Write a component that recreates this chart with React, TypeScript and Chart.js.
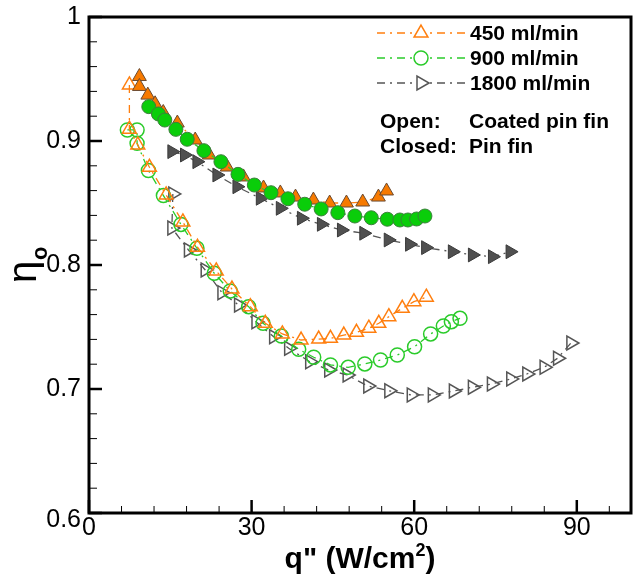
import React, { useEffect, useRef } from 'react';
import { Chart, registerables } from 'chart.js';

Chart.register(...registerables);

// ---------- data ----------
// 450 ml/min, pin fin (closed)
const q450Closed = [9.3, 9.3, 10.85, 12.2, 13.7, 16.3, 19.6, 22.2, 25.5, 28.5, 32.2, 35.3, 38.1, 41.4, 44.4, 47.5, 50.5, 53.4, 54.9];
const eta450Closed = [0.952, 0.944, 0.937, 0.93, 0.923, 0.9145, 0.9008, 0.8887, 0.879, 0.871, 0.8621, 0.8581, 0.8548, 0.8524, 0.85, 0.85, 0.8508, 0.8548, 0.8597];
// 900 ml/min, pin fin (closed)
const q900Closed = [11.03, 12.81, 13.99, 16.03, 18.12, 21.2, 24.34, 27.49, 30.5, 33.58, 36.7, 39.8, 42.83, 45.91, 49.05, 52.08, 55.04, 57.36, 58.84, 60.44, 61.98];
const eta900Closed = [0.9277, 0.9218, 0.9169, 0.9094, 0.9014, 0.8922, 0.8833, 0.8731, 0.8645, 0.8583, 0.8534, 0.849, 0.8452, 0.8422, 0.8395, 0.8381, 0.8369, 0.8363, 0.8363, 0.8371, 0.8395];
// 1800 ml/min, pin fin (closed)
const q1800Closed = [15.29, 17.62, 19.91, 23.6, 27.3, 31.61, 35.3, 39.19, 42.88, 46.58, 50.7, 55.21, 59.15, 62.11, 67.04, 70.74, 74.44, 77.69];
const eta1800Closed = [0.8914, 0.8887, 0.8833, 0.8726, 0.8631, 0.8538, 0.8457, 0.8377, 0.8328, 0.8282, 0.8256, 0.8202, 0.8167, 0.814, 0.8107, 0.8081, 0.8067, 0.8107];
// 450 ml/min, coated pin fin (open)
const q450Open = [7.45, 7.45, 9.0, 11.15, 14.23, 17.32, 20.02, 23.48, 26.38, 29.76, 32.53, 35.67, 39.13, 42.38, 44.55, 47.01, 49.35, 51.63, 53.47, 55.32, 57.8, 59.94, 62.24];
const eta450Open = [0.9452, 0.9095, 0.8968, 0.8788, 0.8565, 0.8347, 0.8143, 0.7952, 0.7806, 0.7664, 0.753, 0.7444, 0.7395, 0.7403, 0.7409, 0.7435, 0.7457, 0.749, 0.753, 0.7583, 0.7651, 0.7704, 0.774];
// 900 ml/min, coated pin fin (open)
const q900Open = [7.08, 8.87, 8.87, 10.96, 13.73, 16.97, 19.91, 23.11, 26.06, 29.45, 32.11, 35.49, 38.69, 41.46, 44.55, 47.82, 50.89, 53.79, 56.88, 60.07, 63.03, 65.38, 66.86, 68.45];
const eta900Open = [0.9089, 0.9089, 0.8981, 0.8762, 0.856, 0.8327, 0.8135, 0.7933, 0.779, 0.7664, 0.753, 0.7427, 0.732, 0.7256, 0.7194, 0.7175, 0.7202, 0.7234, 0.7274, 0.7341, 0.7444, 0.7508, 0.7543, 0.757];
// 1800 ml/min, coated pin fin (open)
const q1800Open = [15.47, 15.29, 18.35, 21.44, 24.53, 27.6, 30.81, 34.07, 36.84, 40.72, 44.23, 47.63, 51.44, 55.32, 59.46, 63.35, 67.23, 70.74, 74.25, 77.82, 80.78, 83.97, 86.45, 88.91];
const eta1800Open = [0.8573, 0.8298, 0.8121, 0.796, 0.7777, 0.7677, 0.7543, 0.7422, 0.7328, 0.722, 0.7153, 0.7113, 0.7024, 0.6986, 0.6952, 0.6952, 0.6984, 0.7014, 0.704, 0.7081, 0.7121, 0.7175, 0.7248, 0.7371];

const legendLabels = ['450 ml/min', '900 ml/min', '1800 ml/min'];
const noteKeys = ['Open:', 'Closed:'];
const noteValues = ['Coated pin fin', 'Pin fin'];

const xMajorTicks = [0, 30, 60, 90];
const xTickLabels = ['0', '30', '60', '90'];
const yMajorTicks = [0.6, 0.7, 0.8, 0.9, 1.0];
const yTickLabels = ['0.6', '0.7', '0.8', '0.9', '1'];

const X_MIN = 0, X_MAX = 100, X_MINOR = 6;
const Y_MIN = 0.6, Y_MAX = 1.0, Y_MINOR = 0.02;

// ---------- styles ----------
const ORANGE = '#FF7F0F';
const GREEN = '#2ACB2A';
const GRAY = '#555555';
const DASH = [8, 5, 2, 5];
const FONT = 'Arial, "Liberation Sans", Helvetica, sans-serif';

const pts = (xs: number[], ys: number[]) => xs.map((x, i) => ({ x, y: ys[i] }));

function drawMarker(ctx: CanvasRenderingContext2D, kind: string, x: number, y: number, color: string) {
  ctx.save();
  ctx.setLineDash([]);
  ctx.strokeStyle = color;
  ctx.lineWidth = 1.5;
  ctx.fillStyle = '#ffffff';
  ctx.beginPath();
  if (kind === 'circle') {
    ctx.arc(x, y, 7, 0, Math.PI * 2);
  } else {
    const r = 8;
    let rad = kind === 'triRight' ? Math.PI / 2 : 0;
    for (let i = 0; i < 3; i++) {
      const px = x + Math.sin(rad) * r;
      const py = y - Math.cos(rad) * r;
      if (i === 0) ctx.moveTo(px, py); else ctx.lineTo(px, py);
      rad += (2 * Math.PI) / 3;
    }
    ctx.closePath();
  }
  ctx.fill();
  ctx.stroke();
  ctx.restore();
}

const decorPlugin = {
  id: 'decor',
  afterDraw(chart: any) {
    const { ctx, chartArea } = chart;
    const xs = chart.scales.x;
    const ys = chart.scales.y;
    const { left, right, top, bottom } = chartArea;
    ctx.save();
    // ticks (inward) on left and bottom
    ctx.strokeStyle = '#000';
    ctx.setLineDash([]);
    for (let v = X_MIN; v <= X_MAX + 1e-9; v += X_MINOR) {
      const px = xs.getPixelForValue(v);
      ctx.lineWidth = 1;
      ctx.beginPath();
      ctx.moveTo(px, bottom);
      ctx.lineTo(px, bottom - 7);
      ctx.stroke();
    }
    xMajorTicks.forEach((v) => {
      const px = xs.getPixelForValue(v);
      ctx.lineWidth = 2.5;
      ctx.beginPath();
      ctx.moveTo(px, bottom);
      ctx.lineTo(px, bottom - 13);
      ctx.stroke();
    });
    for (let v = Y_MIN; v <= Y_MAX + 1e-9; v += Y_MINOR) {
      const py = ys.getPixelForValue(v);
      ctx.lineWidth = 1;
      ctx.beginPath();
      ctx.moveTo(left, py);
      ctx.lineTo(left + 8, py);
      ctx.stroke();
    }
    yMajorTicks.forEach((v) => {
      const py = ys.getPixelForValue(v);
      ctx.lineWidth = 2.5;
      ctx.beginPath();
      ctx.moveTo(left, py);
      ctx.lineTo(left + 13, py);
      ctx.stroke();
    });
    // frame
    ctx.lineWidth = 3;
    ctx.strokeRect(left, top, right - left, bottom - top);

    // tick labels
    ctx.fillStyle = '#000';
    ctx.font = `25px ${FONT}`;
    ctx.textAlign = 'center';
    ctx.textBaseline = 'middle';
    xMajorTicks.forEach((v, i) => {
      ctx.fillText(xTickLabels[i], xs.getPixelForValue(v), bottom + 15);
    });
    ctx.textAlign = 'right';
    yMajorTicks.forEach((v, i) => {
      const dy = v === Y_MIN ? 7 : 0;
      ctx.fillText(yTickLabels[i], left - 8, ys.getPixelForValue(v) + dy);
    });

    // x title: q" (W/cm2)
    ctx.textBaseline = 'alphabetic';
    ctx.textAlign = 'left';
    const mainFont = `bold 30px ${FONT}`;
    const supFont = `bold 18px ${FONT}`;
    ctx.font = mainFont;
    const part1 = 'q" (W/cm';
    const part2 = ')';
    const w1 = ctx.measureText(part1).width;
    const w3 = ctx.measureText(part2).width;
    ctx.font = supFont;
    const w2 = ctx.measureText('2').width;
    const total = w1 + w2 + w3;
    const cx = 360;
    let sx = cx - total / 2;
    const baseY = 568;
    ctx.font = mainFont;
    ctx.fillText(part1, sx, baseY);
    sx += w1;
    ctx.font = supFont;
    ctx.fillText('2', sx, baseY - 12);
    sx += w2;
    ctx.font = mainFont;
    ctx.fillText(part2, sx, baseY);

    // y title: eta_o
    ctx.save();
    ctx.translate(36, 268);
    ctx.rotate(-Math.PI / 2);
    ctx.textAlign = 'center';
    ctx.textBaseline = 'alphabetic';
    ctx.font = `40px ${FONT}`;
    ctx.fillText('η', -4, 0);
    ctx.font = `bold 22px ${FONT}`;
    ctx.textAlign = 'left';
    ctx.fillText('o', 8, 11);
    ctx.restore();

    // legend
    const legend = [
      { label: legendLabels[0], color: ORANGE, kind: 'triUp', y: 33 },
      { label: legendLabels[1], color: GREEN, kind: 'circle', y: 58 },
      { label: legendLabels[2], color: GRAY, kind: 'triRight', y: 83 },
    ];
    legend.forEach((it) => {
      ctx.save();
      ctx.strokeStyle = it.color;
      ctx.lineWidth = 1.3;
      ctx.setLineDash(DASH);
      ctx.beginPath();
      ctx.moveTo(377, it.y);
      ctx.lineTo(465, it.y);
      ctx.stroke();
      ctx.restore();
      drawMarker(ctx, it.kind, 421, it.y, it.color);
      ctx.fillStyle = '#000';
      ctx.font = `bold 21px ${FONT}`;
      ctx.textAlign = 'left';
      ctx.textBaseline = 'middle';
      ctx.fillText(it.label, 470, it.y + 1);
    });
    ctx.fillStyle = '#000';
    ctx.font = `bold 21px ${FONT}`;
    ctx.textAlign = 'left';
    ctx.textBaseline = 'middle';
    ctx.fillText(noteKeys[0], 380, 122);
    ctx.fillText(noteValues[0], 469, 122);
    ctx.fillText(noteKeys[1], 380, 147);
    ctx.fillText(noteValues[1], 469, 147);
    ctx.restore();
  },
};

export default function App() {
  const canvasRef = useRef<HTMLCanvasElement | null>(null);

  useEffect(() => {
    const canvas = canvasRef.current;
    if (!canvas) return;
    const lineBase = { showLine: true, borderWidth: 1.3, borderDash: DASH, pointBorderWidth: 1.5, pointHoverRadius: 0 };
    const chart = new Chart(canvas, {
      type: 'scatter',
      data: {
        datasets: [
          {
            ...lineBase, label: '900 closed', data: pts(q900Closed, eta900Closed), order: 0,
            borderColor: GREEN, pointStyle: 'circle', pointRadius: 7,
            pointBackgroundColor: '#0ACD0A', pointBorderColor: '#3C7F3C', pointBorderWidth: 1,
          },
          {
            ...lineBase, label: '450 closed', data: pts(q450Closed, eta450Closed), order: 1,
            borderColor: ORANGE, pointStyle: 'triangle', pointRadius: 8,
            pointBackgroundColor: '#F77A00', pointBorderColor: '#6A4A30', pointBorderWidth: 1,
          },
          {
            ...lineBase, label: '1800 closed', data: pts(q1800Closed, eta1800Closed), order: 2,
            borderColor: GRAY, pointStyle: 'triangle', pointRotation: 90, pointRadius: 8,
            pointBackgroundColor: '#505050', pointBorderColor: '#3A3A3A', pointBorderWidth: 1,
          },
          {
            ...lineBase, label: '450 open', data: pts(q450Open, eta450Open), order: 3,
            borderColor: ORANGE, pointStyle: 'triangle', pointRadius: 8,
            pointBackgroundColor: 'rgba(0,0,0,0)', pointBorderColor: ORANGE,
          },
          {
            ...lineBase, label: '900 open', data: pts(q900Open, eta900Open), order: 4,
            borderColor: GREEN, pointStyle: 'circle', pointRadius: 7,
            pointBackgroundColor: 'rgba(0,0,0,0)', pointBorderColor: GREEN,
          },
          {
            ...lineBase, label: '1800 open', data: pts(q1800Open, eta1800Open), order: 5,
            borderColor: GRAY, pointStyle: 'triangle', pointRotation: 90, pointRadius: 8,
            pointBackgroundColor: 'rgba(0,0,0,0)', pointBorderColor: GRAY,
          },
        ],
      } as any,
      options: {
        animation: false,
        responsive: false,
        maintainAspectRatio: false,
        events: [],
        layout: { autoPadding: false, padding: { top: 17, right: 2, left: 0, bottom: 0 } },
        plugins: { legend: { display: false }, tooltip: { enabled: false } },
        scales: {
          x: {
            type: 'linear', min: X_MIN, max: X_MAX,
            ticks: { display: false }, grid: { display: false }, border: { display: false },
            afterFit: (s: any) => { s.height = 64; },
          },
          y: {
            type: 'linear', min: Y_MIN, max: Y_MAX,
            ticks: { display: false }, grid: { display: false }, border: { display: false },
            afterFit: (s: any) => { s.width = 89; },
          },
        },
      } as any,
      plugins: [decorPlugin],
    });
    return () => chart.destroy();
  }, []);

  return (
    <div style={{ position: 'absolute', left: 0, top: 0, width: 633, height: 577, background: '#fff' }}>
      <canvas ref={canvasRef} width={633} height={577} style={{ display: 'block', width: 633, height: 577 }} />
    </div>
  );
}
